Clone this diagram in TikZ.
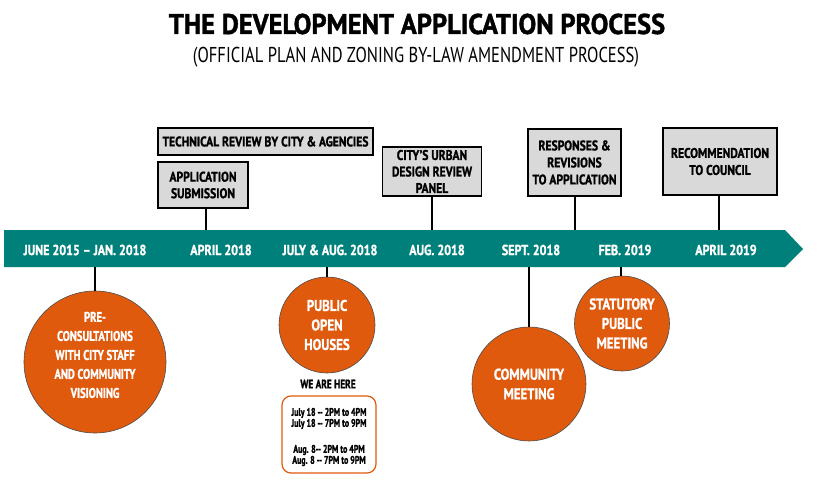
\documentclass[tikz,border=0pt]{standalone}
\usepackage{fontspec}
\setmainfont{PT Sans}[FakeStretch=0.83, BoldFeatures={FakeBold=1.2}]
\newfontfamily\fnarrow{PT Sans}[FakeStretch=0.76, BoldFeatures={FakeBold=1.2}]
\newfontfamily\fhours{PT Sans}[FakeStretch=0.72, BoldFeatures={FakeBold=1.3}]
\newfontfamily\ftitle{PT Sans}[FakeStretch=0.93, BoldFeatures={FakeBold=1.4}]
\newfontfamily\fsub{PT Sans}[FakeStretch=0.77]
\definecolor{bandteal}{HTML}{00807A}
\definecolor{circorange}{HTML}{E05A0E}
\definecolor{boxgray}{HTML}{D9D9D9}
\begin{document}
\begin{tikzpicture}[x=1pt,y=-1pt,
  gbox/.style={draw=black, line width=1.1pt, fill=boxgray, align=center, inner sep=0pt,
    font=\bfseries\fontsize{14}{16.5}\selectfont},
  ocirc/.style={circle, draw=black!70, line width=0.6pt, fill=circorange, align=center, inner sep=0pt,
    text=white, font=\bfseries\fontsize{15.5}{19.5}\selectfont},
  circtext/.style={align=center, inner sep=0pt, text=white,
    font=\fnarrow\bfseries\fontsize{14}{19}\selectfont},
  datelbl/.style={text=white, font=\bfseries\fontsize{14.5}{16}\selectfont, inner sep=0pt},
  conn/.style={draw=black, line width=1.1pt},
  hourlbl/.style={font=\fhours\bfseries\fontsize{11}{11}\selectfont, align=center, inner sep=0pt}]
\useasboundingbox (0,0) rectangle (820,487);

% title
\node[font=\ftitle\bfseries\fontsize{28.5}{30}\selectfont, inner sep=0pt] (title) at (417,24) {THE DEVELOPMENT APPLICATION PROCESS};
\node[font=\fsub\fontsize{21.5}{23}\selectfont, inner sep=0pt] (subtitle) at (416,57) {(OFFICIAL PLAN AND ZONING BY-LAW AMENDMENT PROCESS)};

% band
\fill[bandteal] (4,230) -- (785,230) -- (803,249) -- (785,267) -- (4,267) -- cycle;

% dates
\node[datelbl] (d1) at (85,250) {JUNE 2015 -- JAN. 2018};
\node[datelbl] (d2) at (221,250) {APRIL 2018};
\node[datelbl] (d3) at (330,250) {JULY \& AUG. 2018};
\node[datelbl] (d4) at (437,250) {AUG. 2018};
\node[datelbl] (d5) at (531,250) {SEPT. 2018};
\node[datelbl] (d6) at (625,250) {FEB. 2019};
\node[datelbl] (d7) at (726,250) {APRIL 2019};

% band anchor coordinates
\coordinate (t2) at (206,230);
\coordinate (t4) at (432,230);
\coordinate (t5) at (575,230);
\coordinate (t7) at (719,230);
\coordinate (b1) at (95,267);
\coordinate (b3) at (327,267);
\coordinate (b5) at (529,267);
\coordinate (b6) at (621,267);

% upper boxes
\node[gbox, minimum width=215pt, minimum height=27pt] (tech) at (265.5,141.5) {TECHNICAL REVIEW BY CITY \& AGENCIES};
\node[gbox, minimum width=90pt, minimum height=46pt] (appsub) at (203,185) {APPLICATION\\SUBMISSION};
\node[gbox, minimum width=99pt, minimum height=49pt] (urban) at (432,171.5) {CITY'S URBAN\\DESIGN REVIEW\\PANEL};
\node[gbox, minimum width=93pt, minimum height=67pt, font=\bfseries\fontsize{14}{17}\selectfont] (resp) at (574.5,162.5) {RESPONSES \&\\REVISIONS\\TO APPLICATION};
\node[gbox, minimum width=114pt, minimum height=67pt, font=\bfseries\fontsize{14}{17}\selectfont] (rec) at (720,161.5) {RECOMMENDATION\\TO COUNCIL};

\draw[conn] (appsub.south -| t2) -- (t2);
\draw[conn] (urban.south -| t4) -- (t4);
\draw[conn] (resp.south -| t5) -- (t5);
\draw[conn] (rec.south -| t7) -- (t7);

% circles
\node[ocirc, minimum size=142pt] (pre) at (95,362) {};
\node[circtext] (preT) at (95,355) {PRE-\\CONSULTATIONS\\WITH CITY STAFF\\AND COMMUNITY\\VISIONING};
\node[ocirc, minimum size=96pt] (poh) at (327,325) {PUBLIC\\OPEN\\HOUSES};
\node[ocirc, minimum size=114pt] (comm) at (529,384) {COMMUNITY\\MEETING};
\node[ocirc, minimum size=95pt] (stat) at (622,323.5) {STATUTORY\\PUBLIC\\MEETING};

\draw[conn] (b1) -- (pre.north);
\draw[conn] (b3) -- (poh.north);
\draw[conn] (b5) -- (comm.north);
\draw[conn] (b6) -- (stat.north -| b6);

% we are here
\node[font=\fnarrow\bfseries\fontsize{12.3}{13}\selectfont, inner sep=0pt] (here) at (328,384) {WE ARE HERE};
\node[draw=circorange, line width=1.2pt, rounded corners=9pt, minimum width=94pt, minimum height=77pt, inner sep=0pt] (hours) at (329,434.5) {};
\node[hourlbl] (h1) at (329,413) {July 18 -- 2PM to 4PM};
\node[hourlbl] (h2) at (329,424) {July 18 -- 7PM to 9PM};
\node[hourlbl] (h3) at (329,450) {Aug. 8-- 2PM to 4PM};
\node[hourlbl] (h4) at (329,461) {Aug. 8 -- 7PM to 9PM};
\end{tikzpicture}
\end{document}
